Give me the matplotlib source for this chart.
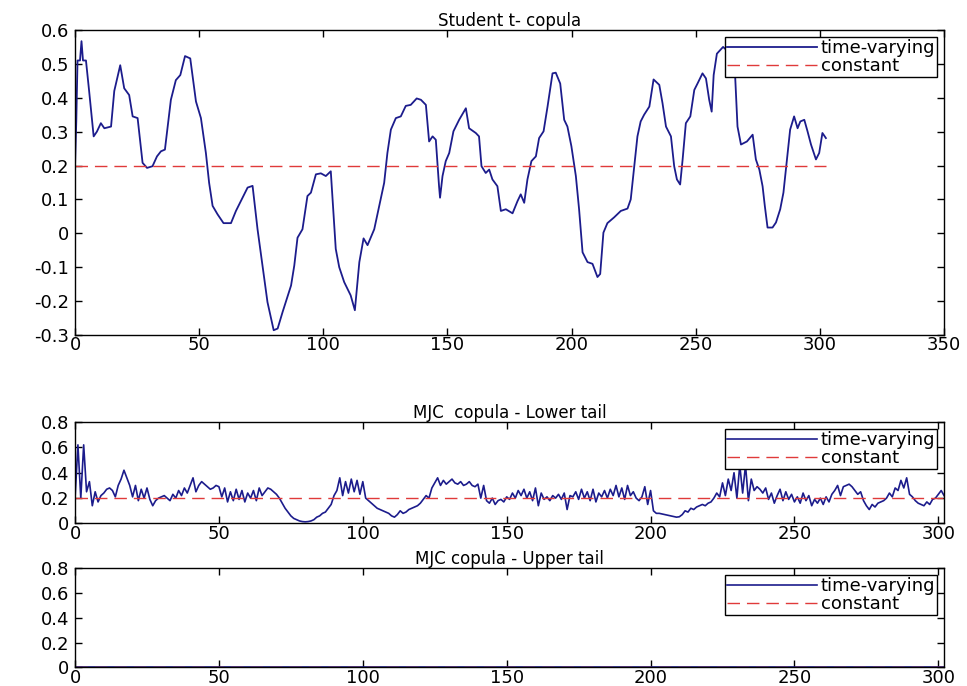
import numpy as np
import matplotlib
matplotlib.use("Agg")
import matplotlib.pyplot as plt


# --------------------------------
# DATA
# --------------------------------

# Student t copula, time-varying dependence
t_x = [0, 0.5, 1, 2, 2.6, 3.2, 4.4, 5.7, 7.5, 8.8, 10.4, 11.8, 14.5, 15.8, 18.2,
       19.8, 21.8, 23.2, 25.2, 27.2, 29, 31.2, 33, 34.6, 36.2, 38.6, 40.6, 42.4,
       44.3, 46.4, 48.7, 50.7, 52.7, 54, 55.4, 57.4, 59.8, 62.8, 64.8, 67.1, 69.5,
       71.5, 73.5, 75.5, 77.5, 80, 81.6, 83.6, 87, 88.3, 89.6, 91.6, 93.6, 95, 97,
       99, 101, 103, 105, 106.4, 108.4, 111, 112.7, 114.5, 116.2, 117.8, 120.5,
       122.5, 124.5, 125.8, 127.2, 129.2, 131.2, 133.2, 135.2, 137.6, 139.3, 141.3,
       142.6, 144, 145.3, 146.6, 147, 148, 149.3, 150.7, 152.4, 154.7, 157.4, 158.7,
       161.4, 162.7, 163.7, 165.4, 166.8, 168.1, 170.1, 171.5, 173.5, 176.2, 178.2,
       179.5, 180.9, 182.2, 183.8, 185.6, 186.9, 188.7, 190.3, 192.3, 193.6, 195.4,
       197, 198.3, 199.9, 201.7, 203, 204.4, 206.4, 208.4, 210.4, 211.5, 212.8,
       214.4, 217.1, 219.8, 222.5, 223.8, 225.2, 226.5, 227.8, 229.2, 231.3, 233,
       235.3, 236.6, 238, 240, 241.3, 242.4, 243.7, 244.7, 246, 247.8, 249.4, 250.7,
       252.7, 254.1, 255.4, 256.4, 257.2, 258.5, 261, 264, 265.8, 266.8, 268.2,
       270.6, 272.9, 274.2, 275.6, 276.9, 277.8, 278.9, 280.9, 282.3, 284, 285.3,
       286.7, 288, 289.6, 291, 292.1, 293.7, 295, 296.4, 298.4, 299.7, 301, 302.4]

t_y = [0.20, 0.33, 0.51, 0.51, 0.567, 0.51, 0.51, 0.418, 0.286, 0.30, 0.325, 0.31,
       0.315, 0.42, 0.496, 0.428, 0.408, 0.345, 0.34, 0.208, 0.193, 0.198, 0.227,
       0.242, 0.247, 0.394, 0.452, 0.467, 0.523, 0.516, 0.389, 0.34, 0.237, 0.149,
       0.081, 0.056, 0.03, 0.03, 0.066, 0.10, 0.135, 0.14, 0.012, -0.095, -0.203,
       -0.286, -0.281, -0.232, -0.154, -0.095, -0.013, 0.012, 0.11, 0.12, 0.174,
       0.177, 0.169, 0.183, -0.046, -0.10, -0.144, -0.183, -0.227, -0.085, -0.015,
       -0.035, 0.012, 0.081, 0.149, 0.237, 0.306, 0.34, 0.345, 0.376, 0.379, 0.398,
       0.394, 0.379, 0.271, 0.286, 0.276, 0.139, 0.105, 0.169, 0.213, 0.237, 0.301,
       0.335, 0.369, 0.31, 0.296, 0.286, 0.198, 0.178, 0.188, 0.159, 0.139, 0.066,
       0.071, 0.059, 0.095, 0.115, 0.09, 0.159, 0.213, 0.227, 0.281, 0.301, 0.374,
       0.472, 0.474, 0.442, 0.335, 0.315, 0.257, 0.169, 0.071, -0.056, -0.085,
       -0.09, -0.129, -0.12, 0.002, 0.03, 0.047, 0.066, 0.073, 0.10, 0.198, 0.286,
       0.33, 0.35, 0.374, 0.454, 0.438, 0.384, 0.315, 0.286, 0.198, 0.159, 0.144,
       0.218, 0.325, 0.345, 0.423, 0.442, 0.472, 0.457, 0.394, 0.359, 0.467, 0.53,
       0.55, 0.53, 0.472, 0.315, 0.262, 0.271, 0.291, 0.218, 0.188, 0.139, 0.081,
       0.017, 0.017, 0.032, 0.071, 0.12, 0.218, 0.306, 0.345, 0.31, 0.33, 0.335,
       0.301, 0.262, 0.218, 0.237, 0.296, 0.281]

t_const = 0.2

# MJC copula, lower tail dependence (one value per observation)
lower_y = [
    0.20, 0.62, 0.20, 0.62, 0.25, 0.33, 0.14, 0.25, 0.17, 0.22,
    0.24, 0.27, 0.28, 0.26, 0.21, 0.30, 0.35, 0.42, 0.36, 0.30,
    0.21, 0.30, 0.18, 0.27, 0.20, 0.28, 0.19, 0.14, 0.18, 0.20,
    0.21, 0.22, 0.20, 0.18, 0.23, 0.20, 0.26, 0.22, 0.28, 0.24,
    0.30, 0.36, 0.25, 0.30, 0.33, 0.31, 0.29, 0.27, 0.28, 0.30,
    0.29, 0.21, 0.28, 0.17, 0.25, 0.18, 0.27, 0.19, 0.26, 0.17,
    0.24, 0.20, 0.26, 0.18, 0.28, 0.22, 0.25, 0.28, 0.27, 0.25,
    0.23, 0.20, 0.16, 0.12, 0.09, 0.06, 0.04, 0.03, 0.02, 0.015,
    0.013, 0.015, 0.02, 0.03, 0.05, 0.06, 0.08, 0.09, 0.12, 0.15,
    0.22, 0.26, 0.36, 0.22, 0.33, 0.24, 0.35, 0.25, 0.34, 0.23,
    0.33, 0.20, 0.18, 0.16, 0.14, 0.12, 0.11, 0.10, 0.09, 0.08,
    0.06, 0.05, 0.07, 0.10, 0.08, 0.09, 0.11, 0.12, 0.13, 0.14,
    0.16, 0.19, 0.22, 0.20, 0.28, 0.32, 0.36, 0.30, 0.34, 0.31,
    0.33, 0.35, 0.32, 0.31, 0.33, 0.30, 0.31, 0.33, 0.30, 0.29,
    0.31, 0.20, 0.30, 0.18, 0.16, 0.20, 0.15, 0.18, 0.19, 0.17,
    0.21, 0.19, 0.24, 0.20, 0.26, 0.22, 0.27, 0.20, 0.25, 0.18,
    0.28, 0.14, 0.24, 0.19, 0.21, 0.18, 0.22, 0.20, 0.23, 0.19,
    0.24, 0.11, 0.22, 0.21, 0.25, 0.19, 0.27, 0.20, 0.25, 0.18,
    0.27, 0.17, 0.24, 0.21, 0.26, 0.20, 0.27, 0.22, 0.30, 0.21,
    0.28, 0.19, 0.30, 0.22, 0.25, 0.20, 0.18, 0.21, 0.29, 0.15,
    0.26, 0.10, 0.08, 0.08, 0.075, 0.07, 0.065, 0.06, 0.055, 0.05,
    0.053, 0.07, 0.10, 0.09, 0.12, 0.11, 0.13, 0.14, 0.15, 0.14,
    0.16, 0.17, 0.20, 0.24, 0.21, 0.32, 0.22, 0.35, 0.26, 0.40,
    0.20, 0.46, 0.24, 0.46, 0.18, 0.35, 0.26, 0.29, 0.27, 0.24,
    0.28, 0.19, 0.24, 0.16, 0.22, 0.27, 0.18, 0.25, 0.19, 0.23,
    0.17, 0.21, 0.16, 0.24, 0.18, 0.22, 0.14, 0.19, 0.16, 0.20,
    0.15, 0.21, 0.17, 0.23, 0.26, 0.30, 0.22, 0.29, 0.30, 0.31,
    0.29, 0.26, 0.23, 0.25, 0.18, 0.14, 0.11, 0.15, 0.13, 0.16,
    0.17, 0.18, 0.20, 0.24, 0.21, 0.28, 0.26, 0.34, 0.28, 0.36,
    0.23, 0.21, 0.18, 0.16, 0.15, 0.14, 0.17, 0.15, 0.19, 0.20,
    0.23, 0.26, 0.22,
]
lower_const = 0.2

# MJC copula, upper tail dependence: zero throughout
upper_value = 0.0
upper_const = 0.0

legend_labels = ["time-varying", "constant"]

top_yticks = [-0.3, -0.2, -0.1, 0, 0.1, 0.2, 0.3, 0.4, 0.5, 0.6]
top_yticklabels = ["-0.3", "-0.2", "-0.1", "0", "0.1", "0.2", "0.3", "0.4", "0.5", "0.6"]
top_xticks = [0, 50, 100, 150, 200, 250, 300, 350]

tail_yticks = [0, 0.2, 0.4, 0.6, 0.8]
tail_yticklabels = ["0", "0.2", "0.4", "0.6", "0.8"]
tail_xticks = [0, 50, 100, 150, 200, 250, 300]


# --------------------------------
# STYLE
# --------------------------------

blue = "#1c1c8c"
red = "#e03a3a"
fs = 13

lower_x = np.arange(len(lower_y))


def style_axes(ax):
    ax.tick_params(direction="in", length=5, labelsize=fs,
                   top=True, right=True, width=1)
    ax.tick_params(axis="x", pad=1)
    ax.tick_params(axis="y", pad=4)
    for s in ax.spines.values():
        s.set_linewidth(1.0)
        s.set_color("black")


def add_legend(ax):
    leg = ax.legend(
        legend_labels,
        loc="upper right",
        fontsize=13,
        handlelength=5.0,
        handletextpad=0.2,
        labelspacing=0.0,
        borderpad=0.1,
        borderaxespad=0.4,
        fancybox=False,
        framealpha=1,
    )
    leg.get_frame().set_edgecolor("black")
    leg.get_frame().set_linewidth(1.0)


fig = plt.figure(figsize=(9.67, 6.86), dpi=100)


# --------------------------------
# STUDENT T COPULA
# --------------------------------

ax1 = fig.add_axes([0.0776, 0.5117, 0.8987, 0.4446])

ax1.plot(t_x, t_y, color=blue, lw=1.3)
ax1.plot([t_x[0], t_x[-1]], [t_const, t_const], color=red, lw=1,
         dashes=(9, 5))

ax1.set_xlim(0, 350)
ax1.set_ylim(-0.3, 0.6)
ax1.set_xticks(top_xticks)
ax1.set_yticks(top_yticks)
ax1.set_yticklabels(top_yticklabels)
ax1.set_title("Student t- copula", fontsize=12, pad=3)
style_axes(ax1)
add_legend(ax1)


# --------------------------------
# MJC LOWER TAIL
# --------------------------------

ax2 = fig.add_axes([0.0776, 0.2369, 0.8987, 0.1479])

ax2.plot(lower_x, lower_y, color=blue, lw=1.2)
ax2.plot([lower_x[0], lower_x[-1]], [lower_const, lower_const], color=red,
         lw=1, dashes=(9, 5))

ax2.set_xlim(0, 302)
ax2.set_ylim(0, 0.8)
ax2.set_xticks(tail_xticks)
ax2.set_yticks(tail_yticks)
ax2.set_yticklabels(tail_yticklabels)
ax2.set_title("MJC  copula - Lower tail", fontsize=12, pad=3)
style_axes(ax2)
add_legend(ax2)


# --------------------------------
# MJC UPPER TAIL
# --------------------------------

ax3 = fig.add_axes([0.0776, 0.027, 0.8987, 0.145])

upper_y = np.full(len(lower_x), upper_value)
ax3.plot(lower_x, upper_y, color=blue, lw=1.2)
ax3.plot([lower_x[0], lower_x[-1]], [upper_const, upper_const], color=red,
         lw=1, dashes=(9, 5))

ax3.set_xlim(0, 302)
ax3.set_ylim(0, 0.8)
ax3.set_xticks(tail_xticks)
ax3.set_yticks(tail_yticks)
ax3.set_yticklabels(tail_yticklabels)
ax3.set_title("MJC copula - Upper tail", fontsize=12, pad=3)
style_axes(ax3)
add_legend(ax3)


fig.savefig("out.png", dpi=100)
print("Saved out.png")
